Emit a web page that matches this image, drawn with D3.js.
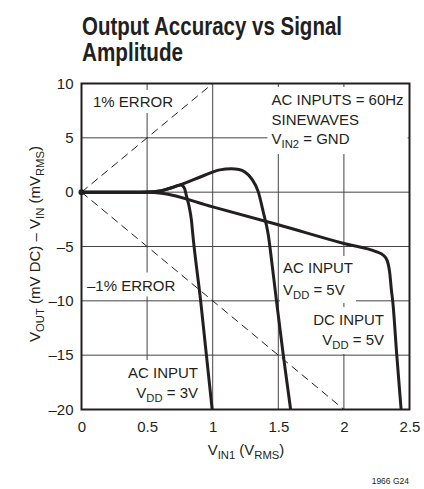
<!DOCTYPE html>
<html>
<head>
<meta charset="utf-8">
<script src="https://cdn.jsdelivr.net/npm/d3@7"></script>
<style>
    body { margin: 0; background: #fff; }
    svg { display: block; }
    text { font-family: "Liberation Sans", Arial, sans-serif; fill: #231f20; }
    .title { font-family: "Liberation Sans Narrow", "Liberation Sans", sans-serif; font-weight: bold; font-size: 25px; }
</style>
</head>
<body>
<div id="chart"></div>
<script>

//axis ticks
var xTicks = [0, 0.5, 1, 1.5, 2, 2.5];
var xTickLabels = ["0", "0.5", "1", "1.5", "2", "2.5"];
var yTicks = [10, 5, 0, -5, -10, -15, -20];
var yTickLabels = ["10", "5", "0", "–5", "–10", "–15", "–20"];
var xGrid = [0.5, 1, 1.5, 2];
var yGrid = [5, 0, -5, -10, -15];

//1% error guide lines
var errorPlus = [[0, 0], [1, 10]];
var errorMinus = [[0, 0], [2, -20]];

//curves, [VIN1 (VRMS), error (mV)]
var acInput3V = [[0, 0], [0.45, 0], [0.55, 0.04], [0.61, 0.13], [0.68, 0.38], [0.73, 0.6], [0.758, 0.66],
    [0.785, 0.35], [0.80, -0.35], [0.82, -1.3], [0.837, -2.5], [0.851, -4.2], [0.909, -10.1], [0.952, -15], [0.996, -20]];
var acInput5V = [[0, 0], [0.45, 0], [0.55, 0.04], [0.61, 0.13], [0.68, 0.38], [0.756, 0.7], [0.915, 1.44],
    [1.054, 2.05], [1.143, 2.15], [1.2, 2.08], [1.245, 1.85], [1.296, 1.25], [1.347, 0.05], [1.385, -1.8],
    [1.424, -3.95], [1.444, -5.8], [1.487, -10.1], [1.538, -15], [1.594, -20]];
var dcInput5V = [[0, 0], [0.45, 0], [0.55, -0.03], [0.61, -0.1], [1.0, -1.35], [1.5, -3.0], [2.0, -4.72],
    [2.25, -5.5], [2.3, -5.8], [2.33, -6.3], [2.35, -7.5], [2.362, -9], [2.372, -10], [2.403, -15], [2.436, -20]];

var width = 424, height = 489;
var plot = {left: 81.5, right: 409.5, top: 83.5, bottom: 409.5};

var svg = d3.select("#chart")
    .append("svg")
    .attr("width", width)
    .attr("height", height);

svg.append("rect")
    .attr("width", width)
    .attr("height", height)
    .attr("fill", "#fff");

var x = d3.scaleLinear().domain([0, 2.5]).range([plot.left, plot.right]);
var y = d3.scaleLinear().domain([-20, 10]).range([plot.bottom, plot.top]);

//title
svg.append("text").attr("class", "title")
    .attr("x", 82).attr("y", 35)
    .attr("textLength", 260).attr("lengthAdjust", "spacingAndGlyphs")
    .text("Output Accuracy vs Signal");
svg.append("text").attr("class", "title")
    .attr("x", 82).attr("y", 61)
    .attr("textLength", 101).attr("lengthAdjust", "spacingAndGlyphs")
    .text("Amplitude");

//grid
svg.append("g").selectAll("line")
    .data(xGrid)
    .enter().append("line")
    .attr("x1", function(d) { return x(d); })
    .attr("x2", function(d) { return x(d); })
    .attr("y1", plot.top).attr("y2", plot.bottom)
    .attr("stroke", "#444").attr("stroke-width", 1);
svg.append("g").selectAll("line")
    .data(yGrid)
    .enter().append("line")
    .attr("y1", function(d) { return y(d); })
    .attr("y2", function(d) { return y(d); })
    .attr("x1", plot.left).attr("x2", plot.right)
    .attr("stroke", "#444").attr("stroke-width", 1);

//axes (labels only)
var axisLeft = d3.axisLeft(y)
    .tickValues(yTicks)
    .tickSize(0)
    .tickPadding(8)
    .tickFormat(function(d, i) { return yTickLabels[i]; });
var axisBottom = d3.axisBottom(x)
    .tickValues(xTicks)
    .tickSize(0)
    .tickPadding(12)
    .tickFormat(function(d, i) { return xTickLabels[i]; });

var gy = svg.append("g")
    .attr("transform", "translate(" + plot.left + ",0)")
    .call(axisLeft);
var gx = svg.append("g")
    .attr("transform", "translate(0," + plot.bottom + ")")
    .call(axisBottom);
[gx, gy].forEach(function(g) {
    g.select(".domain").remove();
    g.selectAll("text")
        .attr("fill", "#231f20")
        .style("font-family", "'Liberation Sans', Arial, sans-serif")
        .style("font-size", "15px");
});

//text blocks with white backing
function addLines(g, lines, xPos, baselines, anchor, size) {
    lines.forEach(function(segs, i) {
        var t = g.append("text")
            .attr("x", xPos)
            .attr("y", baselines[i])
            .attr("text-anchor", anchor)
            .style("font-size", size + "px");
        var down = false;
        segs.forEach(function(s) {
            var sub = typeof s !== "string";
            var ts = t.append("tspan").text(sub ? s[0] : s);
            if (sub && !down) { ts.attr("dy", 4).style("font-size", (size * 0.75) + "px"); down = true; }
            else if (sub) { ts.style("font-size", (size * 0.75) + "px"); }
            else if (down) { ts.attr("dy", -4); down = false; }
        });
    });
}

var blocks = [
    {lines: [["1% ERROR"]], x: 93, y: [107], anchor: "start", pad: [3, 3, 3, 3]},
    {lines: [["AC INPUTS = 60Hz"], ["SINEWAVES"], ["V", ["IN2"], " = GND"]], x: 271.5, y: [105, 124.5, 144],
        anchor: "start", pad: [4, 4, 4, 4]},
    {lines: [["AC INPUT"], ["V", ["DD"], " = 5V"]], x: 283, y: [273, 295], anchor: "start", pad: [3, 3, 2, 3]},
    {lines: [["DC INPUT"], ["V", ["DD"], " = 5V"]], x: 384, y: [325, 345], anchor: "end", pad: [4, 3, 3, 3]},
    {lines: [["AC INPUT"], ["V", ["DD"], " = 3V"]], x: 198, y: [378, 398], anchor: "end", pad: [4, 3, 8, 3]},
    {lines: [["–1% ERROR"]], x: 87, y: [290.5], anchor: "start", pad: [4, 3, 3, 3]}
];

var bgLayer = svg.append("g");
var markLayer = svg.append("g");
var textLayer = svg.append("g");

blocks.forEach(function(b) {
    var g = textLayer.append("g");
    addLines(g, b.lines, b.x, b.y, b.anchor, 15);
    var bb = g.node().getBBox();
    bgLayer.append("rect")
        .attr("x", bb.x - b.pad[3])
        .attr("y", bb.y - b.pad[0])
        .attr("width", bb.width + b.pad[1] + b.pad[3])
        .attr("height", bb.height + b.pad[0] + b.pad[2])
        .attr("fill", "#fff");
});

//dashed 1% error lines
var line = d3.line()
    .x(function(d) { return x(d[0]); })
    .y(function(d) { return y(d[1]); });

[errorPlus, errorMinus].forEach(function(d) {
    markLayer.append("path")
        .datum(d)
        .attr("d", line)
        .attr("fill", "none")
        .attr("stroke", "#231f20")
        .attr("stroke-width", 1)
        .attr("stroke-dasharray", "8,5");
});

//curves
var curve = d3.line()
    .x(function(d) { return x(d[0]); })
    .y(function(d) { return y(d[1]); })
    .curve(d3.curveMonotoneX);

[acInput3V, acInput5V, dcInput5V].forEach(function(d) {
    markLayer.append("path")
        .datum(d)
        .attr("d", curve)
        .attr("fill", "none")
        .attr("stroke", "#231f20")
        .attr("stroke-width", 3)
        .attr("stroke-linejoin", "round");
});

markLayer.append("circle")
    .attr("cx", x(0)).attr("cy", y(0))
    .attr("r", 3)
    .attr("fill", "#231f20");

//frame
svg.append("rect")
    .attr("x", plot.left)
    .attr("y", plot.top)
    .attr("width", plot.right - plot.left)
    .attr("height", plot.bottom - plot.top)
    .attr("fill", "none")
    .attr("stroke", "#231f20")
    .attr("stroke-width", 2);

//axis titles
var yTitle = svg.append("g").attr("transform", "translate(40,244) rotate(-90)");
addLines(yTitle, [["V", ["OUT"], " (mV DC) – V", ["IN"], " (mV", ["RMS"], ")"]], 0, [0], "middle", 15);

addLines(svg.append("g"), [["V", ["IN1"], " (V", ["RMS"], ")"]], 246, [455], "middle", 15);

svg.append("text")
    .attr("x", 409).attr("y", 484)
    .attr("text-anchor", "end")
    .style("font-size", "8.5px")
    .text("1966 G24");

</script>
</body>
</html>
